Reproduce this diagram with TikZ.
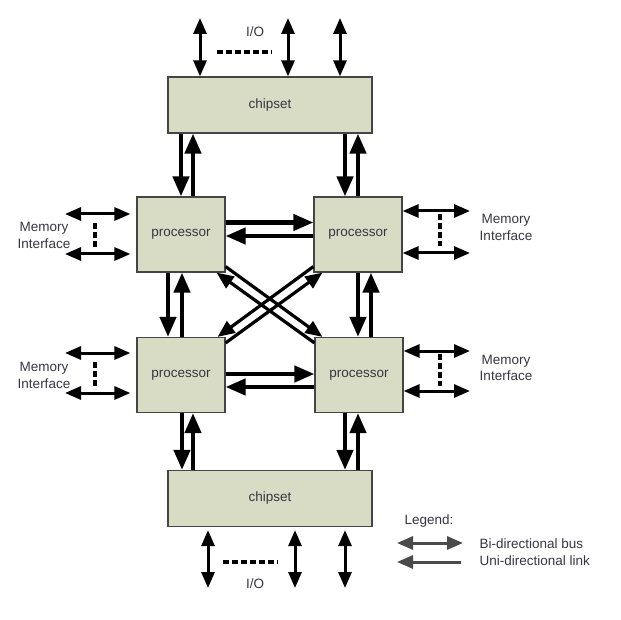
\documentclass[tikz,border=0pt]{standalone}
\usepackage{fontspec}
\setmainfont{Liberation Sans}
\usetikzlibrary{arrows.meta}
\definecolor{boxfill}{HTML}{D9DCC5}
\definecolor{boxline}{HTML}{454545}
\definecolor{txt}{HTML}{363642}
\definecolor{legendgray}{HTML}{4A4A4A}
\begin{document}
\begin{tikzpicture}[x=1pt,y=-1pt,
  every node/.style={font=\fontsize{13.5}{16.5}\selectfont, text=txt},
  unit/.style={draw=boxline, fill=boxfill, line width=1.2pt, inner sep=0pt},
  cpu/.style={unit, minimum width=88pt, minimum height=75pt},
  hub/.style={unit, minimum width=204pt, minimum height=56pt},
  link/.style={line width=4.2pt, -{Triangle[length=20pt,width=16pt]}},
  xlink/.style={line width=3.2pt, -{Triangle[length=17pt,width=14pt]}},
  bus/.style={line width=3pt, {Triangle[length=16pt,width=13pt]}-{Triangle[length=16pt,width=13pt]}},
  dots/.style={line width=4pt, dash pattern=on 6pt off 3pt},
  mem/.style={align=center},
]
\useasboundingbox (0,0) rectangle (621,620);

% chipsets and processors
\node[hub] (ctop) at (270,105) {chipset};
\node[hub] (cbot) at (270,498.5) {chipset};
\node[cpu] (ptl) at (181,234.5) {processor};
\node[cpu] (ptr) at (358,234.5) {processor};
\node[cpu] (pbl) at (181,375) {processor};
\node[cpu] (pbr) at (359,375) {processor};

% top chipset <-> upper processors
\draw[link] (ptl.north |- ctop.south) -- (ptl.north);
\draw[link] ([xshift=12]ptl.north) -- ([xshift=12]ptl.north |- ctop.south);
\draw[link] ([xshift=-13]ptr.north |- ctop.south) -- ([xshift=-13]ptr.north);
\draw[link] (ptr.north) -- (ptr.north |- ctop.south);

% upper processors <-> lower processors
\draw[link] ([xshift=-13]ptl.south) -- ([xshift=-13]ptl.south |- pbl.north);
\draw[link] ([xshift=1]ptl.south |- pbl.north) -- ([xshift=1]ptl.south);
\draw[link] (ptr.south) -- (ptr.south |- pbr.north);
\draw[link] ([xshift=13]ptr.south |- pbr.north) -- ([xshift=13]ptr.south);

% lower processors <-> bottom chipset
\draw[link] ([xshift=1]pbl.south) -- ([xshift=1]pbl.south |- cbot.north);
\draw[link] ([xshift=12]pbl.south |- cbot.north) -- ([xshift=12]pbl.south);
\draw[link] ([xshift=-14]pbr.south) -- ([xshift=-14]pbr.south |- cbot.north);
\draw[link] ([xshift=-1]pbr.south |- cbot.north) -- ([xshift=-1]pbr.south);

% horizontal processor links
\draw[link] ([yshift=12]ptl.east) -- ([yshift=12]ptl.east -| ptr.west);
\draw[link] ([yshift=-1.5]ptr.west) -- ([yshift=-1.5]ptr.west -| ptl.east);
\draw[link] ([yshift=1]pbl.east) -- ([yshift=1]pbl.east -| pbr.west);
\draw[link] ([yshift=-12]pbr.west) -- ([yshift=-12]pbr.west -| pbl.east);

% diagonal processor links
\draw[xlink] ([yshift=6]ptl.south east) -- ([xshift=8]pbr.north west);
\draw[xlink] ([yshift=-6]pbr.north west) -- ([xshift=-9]ptl.south east);
\draw[xlink] ([yshift=6]ptr.south west) -- ([xshift=-8]pbl.north east);
\draw[xlink] ([yshift=-6]pbl.north east) -- ([xshift=9]ptr.south west);

% I/O above the top chipset
\coordinate (ioa) at (200,18);
\coordinate (iob) at (288,18);
\coordinate (ioc) at (340,18);
\draw[bus] (ioa) -- (ioa |- ctop.north);
\draw[bus] (iob) -- (iob |- ctop.north);
\draw[bus] (ioc) -- (ioc |- ctop.north);
\coordinate (ioda) at (217,52);
\coordinate (iodb) at (272,52);
\draw[dots] (ioda) -- (iodb);
\node (iotop) at (255,32) {I/O};

% I/O below the bottom chipset
\coordinate (iba) at (208,588);
\coordinate (ibb) at (295,588);
\coordinate (ibc) at (345,588);
\draw[bus] ([yshift=-3]iba |- cbot.south) -- (iba);
\draw[bus] ([yshift=-3]ibb |- cbot.south) -- (ibb);
\draw[bus] ([yshift=-3]ibc |- cbot.south) -- (ibc);
\coordinate (ibda) at (223,562);
\coordinate (ibdb) at (278,562);
\draw[dots] (ibda) -- (ibdb);
\node (iobot) at (255,584) {I/O};

% memory interfaces, left side
\coordinate (mla) at (65,214);
\coordinate (mlb) at (65,254);
\draw[bus] (mla) -- ([xshift=-6]mla -| ptl.west);
\draw[bus] (mlb) -- ([xshift=-6]mlb -| ptl.west);
\coordinate (mlda) at (95,223);
\coordinate (mldb) at (95,250);
\draw[dots] (mlda) -- (mldb);
\node[mem] (mlt) at (44,235.5) {Memory\\Interface};

\coordinate (mlc) at (65,353);
\coordinate (mld) at (65,393);
\draw[bus] (mlc) -- ([xshift=-6]mlc -| pbl.west);
\draw[bus] (mld) -- ([xshift=-6]mld -| pbl.west);
\coordinate (mldc) at (95,362);
\coordinate (mldd) at (95,389);
\draw[dots] (mldc) -- (mldd);
\node[mem] (mlbt) at (44,375.5) {Memory\\Interface};

% memory interfaces, right side
\coordinate (mra) at (470,211);
\coordinate (mrb) at (470,253);
\draw[bus] (mra -| ptr.east) -- (mra);
\draw[bus] (mrb -| ptr.east) -- (mrb);
\coordinate (mrda) at (440,214);
\coordinate (mrdb) at (440,246);
\draw[dots] (mrda) -- (mrdb);
\node[mem] (mrt) at (506,227.5) {Memory\\Interface};

\coordinate (mrc) at (470,351);
\coordinate (mrd) at (470,391);
\draw[bus] (mrc -| pbr.east) -- (mrc);
\draw[bus] (mrd -| pbr.east) -- (mrd);
\coordinate (mrdc) at (440,354);
\coordinate (mrdd) at (440,386);
\draw[dots] (mrdc) -- (mrdd);
\node[mem] (mrbt) at (506,368) {Memory\\Interface};

% legend
\node[anchor=west] (lg) at (401,521) {Legend:};
\coordinate (lba) at (397,543);
\coordinate (lbb) at (463,543);
\draw[bus, draw=legendgray, fill=legendgray] (lba) -- (lbb);
\node[anchor=west] (lbt) at (476,544) {Bi-directional bus};
\coordinate (lua) at (461,562);
\coordinate (lub) at (397,562);
\draw[line width=3pt, draw=legendgray, -{Triangle[length=16pt,width=13pt]}] (lua) -- (lub);
\node[anchor=west] (lut) at (476,561) {Uni-directional link};
\end{tikzpicture}
\end{document}
